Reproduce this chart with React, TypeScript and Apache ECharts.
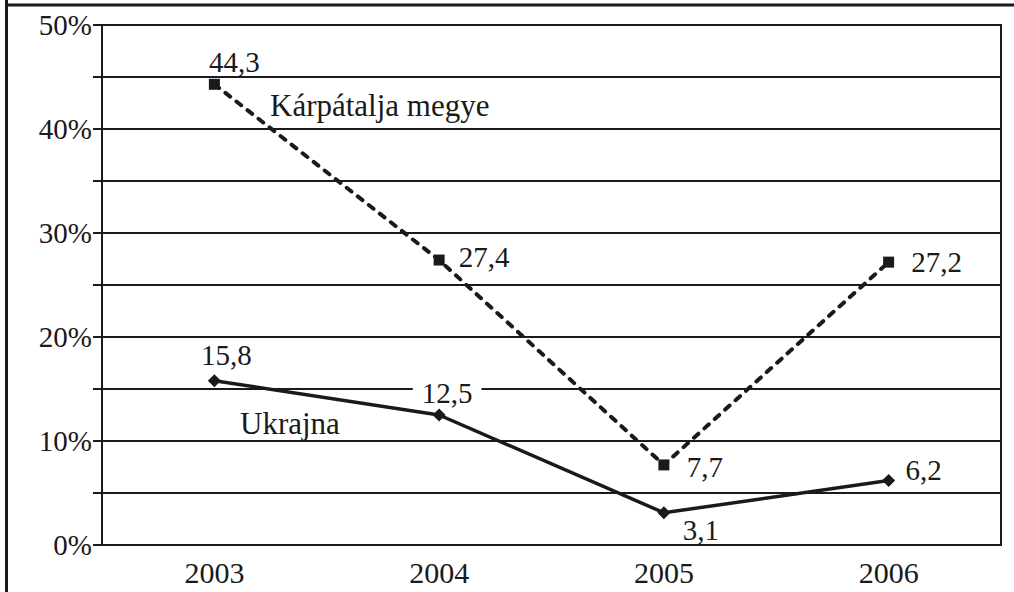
import React, { useEffect, useRef } from "react";
import * as echarts from "echarts";

const years = ["2003", "2004", "2005", "2006"];
const karpatalja = [44.3, 27.4, 7.7, 27.2];
const ukrajna = [15.8, 12.5, 3.1, 6.2];
const karpataljaName = "Kárpátalja megye";
const ukrajnaName = "Ukrajna";
const yTickLabels = ["0%", "10%", "20%", "30%", "40%", "50%"];

const karpLabelOffsets = [[20, -22], [45, -3], [41, 2], [48, 0]];
const ukrLabelOffsets = [[12, -26], [8, -22], [37, 17], [35, -11]];

const FONT = "Liberation Serif";
const INK = "#1a1a1a";

const fmt = (v: number) => String(v).replace(".", ",");

export default function App() {
  const ref = useRef<HTMLDivElement>(null);
  useEffect(() => {
    if (!ref.current) return;
    const chart = echarts.init(ref.current, null, { renderer: "svg" });

    const mkData = (vals: number[], offs: number[][], bgIdx: number) =>
      vals.map((v, i) => ({
        value: v,
        label: {
          show: true,
          position: "inside",
          offset: offs[i],
          align: "center",
          verticalAlign: "middle",
          formatter: fmt(v),
          fontFamily: FONT,
          fontSize: 29,
          color: INK,
          backgroundColor: i === bgIdx ? "#fff" : "transparent",
          padding: i === bgIdx ? [0, 9] : 0,
        },
      }));

    chart.setOption({
      animation: false,
      backgroundColor: "#fff",
      grid: {
        left: 102,
        right: 13,
        top: 25,
        bottom: 47,
        show: true,
        borderColor: INK,
        borderWidth: 2,
      },
      xAxis: {
        type: "category",
        data: years,
        boundaryGap: true,
        axisLine: { lineStyle: { color: INK, width: 2 } },
        axisTick: { show: false },
        axisLabel: {
          fontFamily: FONT,
          fontSize: 30,
          color: INK,
          margin: 12,
        },
        splitLine: { show: false },
      },
      yAxis: {
        type: "value",
        min: 0,
        max: 50,
        interval: 5,
        axisLine: { show: true, lineStyle: { color: INK, width: 2 } },
        axisTick: { show: true, length: 9, lineStyle: { color: INK, width: 2 } },
        axisLabel: {
          fontFamily: FONT,
          fontSize: 29,
          color: INK,
          margin: 10,
          padding: [8, 0, 0, 0],
          formatter: (v: number) =>
            v % 10 === 0 ? yTickLabels[v / 10] : "",
        },
        splitLine: { show: true, lineStyle: { color: INK, width: 1.8 } },
      },
      series: [
        {
          name: karpataljaName,
          type: "line",
          data: mkData(karpatalja, karpLabelOffsets, -1),
          symbol: "rect",
          symbolSize: 11,
          lineStyle: { color: INK, width: 4, type: [6, 8], cap: "round" },
          itemStyle: { color: INK },
          z: 3,
        },
        {
          name: ukrajnaName,
          type: "line",
          data: mkData(ukrajna, ukrLabelOffsets, 1),
          symbol: "diamond",
          symbolSize: 13,
          lineStyle: { color: INK, width: 3.5 },
          itemStyle: { color: INK },
          z: 4,
        },
      ],
      graphic: [
        {
          type: "line",
          shape: { x1: 6.5, y1: 0, x2: 6.5, y2: 592 },
          style: { stroke: INK, lineWidth: 3 },
          silent: true,
        },
        {
          type: "line",
          shape: { x1: 5, y1: 5, x2: 1014, y2: 5 },
          style: { stroke: INK, lineWidth: 3 },
          silent: true,
        },
        {
          type: "text",
          x: 270,
          y: 105,
          style: {
            text: karpataljaName,
            fontFamily: FONT,
            fontSize: 31,
            fill: INK,
            verticalAlign: "middle",
          },
          z: 10,
        },
        {
          type: "text",
          x: 240,
          y: 423,
          style: {
            text: ukrajnaName,
            fontFamily: FONT,
            fontSize: 31,
            fill: INK,
            verticalAlign: "middle",
          },
          z: 10,
        },
      ],
    });
    return () => chart.dispose();
  }, []);

  return (
    <div
      ref={ref}
      style={{ position: "fixed", left: 0, top: 0, width: 1014, height: 592 }}
    />
  );
}
